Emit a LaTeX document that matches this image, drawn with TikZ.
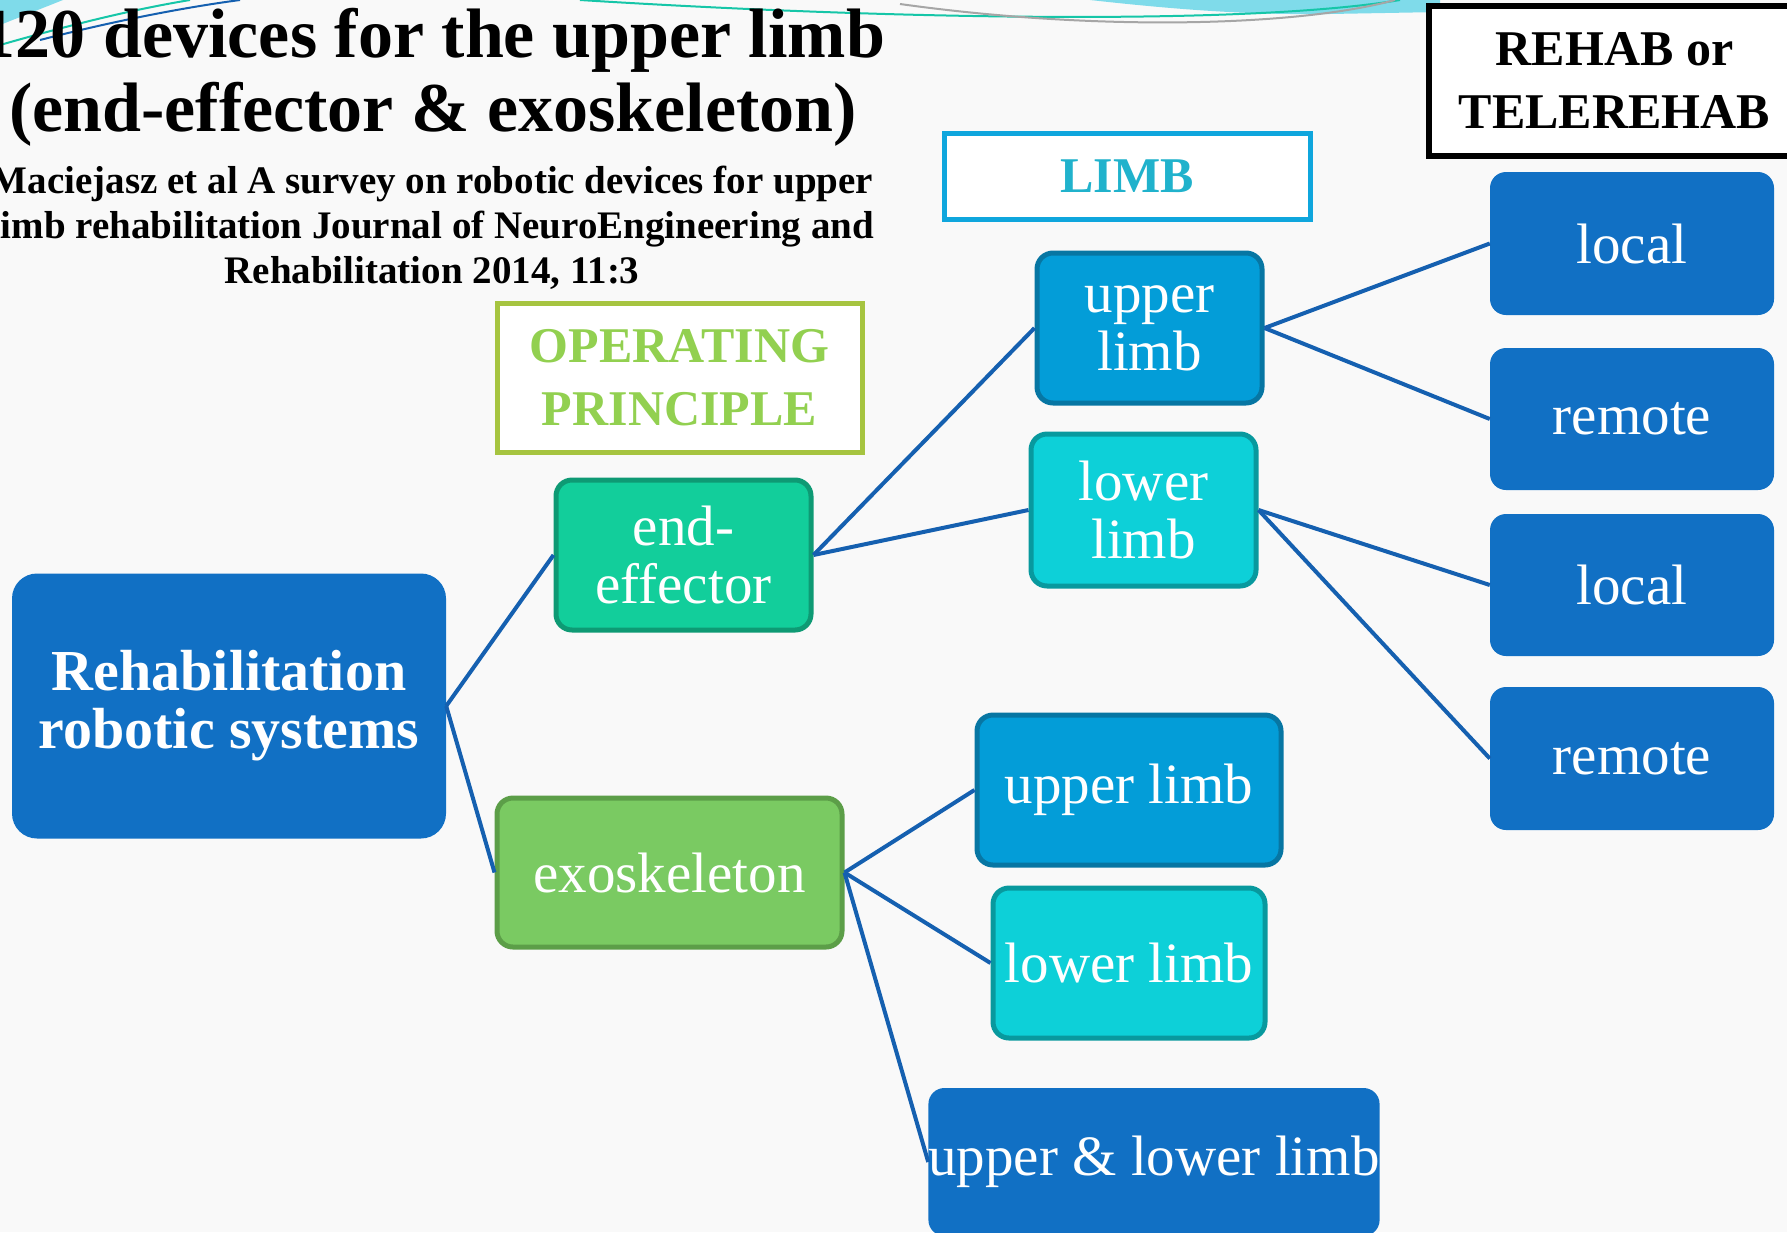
\documentclass[tikz,border=0pt]{standalone}
\usepackage{fontspec}
\setmainfont{Liberation Serif}
\definecolor{bgcol}{HTML}{F9F9F9}
\definecolor{boxblue}{HTML}{1170C4}
\definecolor{lineblue}{HTML}{1560B0}
\definecolor{eefill}{HTML}{12CE9B}
\definecolor{eedraw}{HTML}{0E9A74}
\definecolor{exfill}{HTML}{7ACA62}
\definecolor{exdraw}{HTML}{5C9E48}
\definecolor{ulfill}{HTML}{039DD8}
\definecolor{uldraw}{HTML}{0776A3}
\definecolor{llfill}{HTML}{0DD0D8}
\definecolor{lldraw}{HTML}{08999E}
\definecolor{limbtext}{HTML}{20B2CC}
\definecolor{limbdraw}{HTML}{0FA6DD}
\definecolor{optext}{HTML}{92D050}
\definecolor{opdraw}{HTML}{A6C440}
\definecolor{decocyan}{HTML}{7FDBEA}
\definecolor{decoteal}{HTML}{16C6A8}

\begin{document}
\begin{tikzpicture}[x=1pt,y=-1pt,
    box/.style={rounded corners=16pt, text=white, align=center, inner sep=0pt,
      font=\fontsize{57}{58}\selectfont},
    dark/.style={box, fill=boxblue},
    eebox/.style={box, fill=eefill, draw=eedraw, line width=5pt},
    exbox/.style={box, fill=exfill, draw=exdraw, line width=5pt},
    ulbox/.style={box, fill=ulfill, draw=uldraw, line width=5pt},
    llbox/.style={box, fill=llfill, draw=lldraw, line width=5pt},
    lead/.style={fill=white, align=center, inner sep=0pt, font=\bfseries\fontsize{50}{63}\selectfont},
    link/.style={draw=lineblue, line width=4pt}]
  \useasboundingbox (0,0) rectangle (1787,1232);
  \fill[bgcol] (0,0) rectangle (1787,1232);
  %% top decoration
  \fill[decocyan] (0,0) -- (63,0) -- (0,25) -- cycle;
  \fill[decocyan] (1090,0) .. controls (1180,10) and (1250,15) .. (1330,14) -- (1440,12) -- (1440,0) -- cycle;
  \draw[decoteal, line width=2pt] (0,45) .. controls (70,25) and (130,10) .. (190,0);
  \draw[lineblue, line width=2pt] (40,40) .. controls (110,22) and (180,8) .. (240,0);
  \draw[decoteal, line width=2pt] (580,0) .. controls (900,20) and (1250,25) .. (1400,0);
  \draw[gray!70, line width=2pt] (900,4) .. controls (1100,32) and (1300,26) .. (1395,0);
  %% titles
  \node[font=\bfseries\fontsize{70}{74}\selectfont, align=center] (title) at (433,77)
    {120 devices for the upper limb\\(end-effector \& exoskeleton)};
  \node[font=\bfseries\fontsize{39}{45}\selectfont, align=center] (ref) at (432,228)
    {Maciejasz et al A survey on robotic devices for upper\\limb rehabilitation Journal of NeuroEngineering and\\Rehabilitation 2014, 11:3};
  %% headings
  \node[lead, draw=opdraw, text=optext, line width=5pt, minimum width=365pt, minimum height=149pt] (op) at (679.5,377.5) {OPERATING\\PRINCIPLE};
  \node[lead, draw=limbdraw, text=limbtext, line width=5pt, minimum width=366pt, minimum height=86pt] (limb) at (1127,176) {LIMB};
  \node[lead, draw=black, line width=6pt, minimum width=371pt, minimum height=150pt] (rehab) at (1614.5,81) {REHAB or\\TELEREHAB};
  %% boxes
  \node[dark, rounded corners=25pt, font=\bfseries\fontsize{58}{58}\selectfont, minimum width=434pt, minimum height=265pt] (root) at (229,706) {Rehabilitation\\robotic systems};
  \node[eebox, minimum width=255pt, minimum height=150pt] (ee) at (683.5,555) {end-\\effector};
  \node[exbox, minimum width=345pt, minimum height=149pt] (ex) at (669.5,872.5) {exoskeleton};
  \node[ulbox, minimum width=225pt, minimum height=150pt] (ul1) at (1149.5,328) {upper\\limb};
  \node[llbox, minimum width=225pt, minimum height=152pt] (ll1) at (1143.5,510) {lower\\limb};
  \node[ulbox, minimum width=304pt, minimum height=150pt] (ul2) at (1129,790) {upper limb};
  \node[llbox, minimum width=272pt, minimum height=150pt] (ll2) at (1129,963) {lower limb};
  \node[dark, minimum width=450pt, minimum height=148pt] (ulb) at (1154,1162) {upper \& lower limb};
  \node[dark, minimum width=284pt, minimum height=143pt] (lo1) at (1632,243.5) {local};
  \node[dark, minimum width=284pt, minimum height=142pt] (re1) at (1632,419) {remote};
  \node[dark, minimum width=284pt, minimum height=142pt] (lo2) at (1632,585) {local};
  \node[dark, minimum width=284pt, minimum height=143pt] (re2) at (1632,758.5) {remote};
  %% links
  \draw[link] (root.east) -- (ee.west);
  \draw[link] (root.east) -- (ex.west);
  \draw[link] (ee.east) -- (ul1.west);
  \draw[link] (ee.east) -- (ll1.west);
  \draw[link] (ex.east) -- (ul2.west);
  \draw[link] (ex.east) -- (ll2.west);
  \draw[link] (ex.east) -- (ulb.west);
  \draw[link] (ul1.east) -- (lo1.west);
  \draw[link] (ul1.east) -- (re1.west);
  \draw[link] (ll1.east) -- (lo2.west);
  \draw[link] (ll1.east) -- (re2.west);
\end{tikzpicture}
\end{document}
